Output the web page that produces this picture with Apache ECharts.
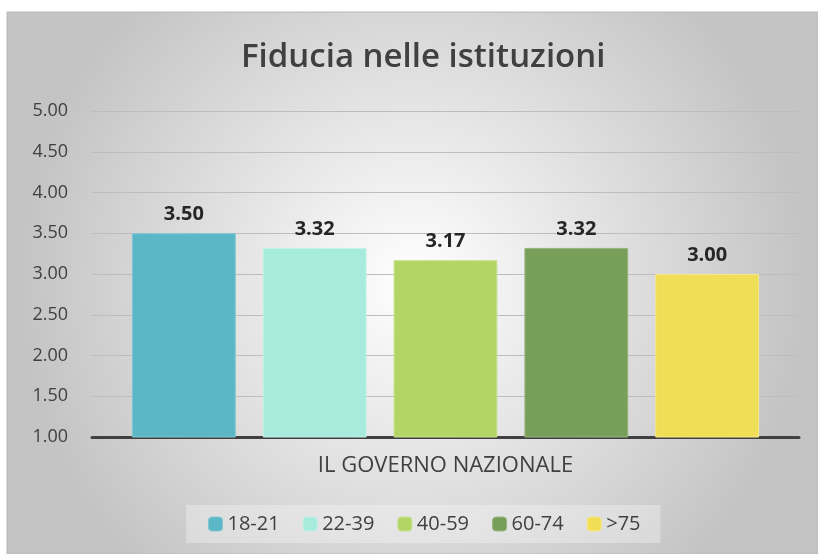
<!DOCTYPE html>
<html><head><meta charset="utf-8">
<script src="https://cdn.jsdelivr.net/npm/echarts@6/dist/echarts.min.js"></script>
<style>html,body{margin:0;padding:0;background:#fff}#c{width:818px;height:554px}</style>
</head><body><div id="c"></div>
<script>
const categories = ['IL GOVERNO NAZIONALE'];
const seriesNames = ['18-21', '22-39', '40-59', '60-74', '>75'];
const seriesValues = [[3.50], [3.32], [3.17], [3.32], [3.00]];
const colors = ['#5bb7c6', '#a6ebdb', '#b2d566', '#789f5a', '#f0df56'];
const borders = ['#7fc7d3', '#c2f2e7', '#c8e28f', '#97b67e', '#f5e886'];
const yTicks = { min: 1, max: 5, interval: 0.5 };

const chart = echarts.init(document.getElementById('c'));
const FONT = 'Open Sans';
chart.setOption({
  backgroundColor: '#ffffff',
  animation: false,
  graphic: [{
    type: 'rect', z: -10, silent: true,
    shape: { x: 7, y: 12, width: 811, height: 542 },
    style: {
      fill: new echarts.graphic.RadialGradient(0.5, 0.5, 0.72, [
        { offset: 0, color: '#ffffff' },
        { offset: 1, color: '#c4c4c4' }
      ]),
      stroke: '#b8b8b8', lineWidth: 1
    }
  }],
  title: {
    text: 'Fiducia nelle istituzioni', left: 236, top: 36,
    textStyle: { fontFamily: FONT, fontSize: 33, fontWeight: 600, color: '#404040' }
  },
  legend: {
    bottom: 11, left: 186,
    itemWidth: 14, itemHeight: 14, itemGap: 23,
    padding: [9, 20, 9, 22],
    backgroundColor: 'rgba(255,255,255,0.3)',
    textStyle: { fontFamily: FONT, fontSize: 20, color: '#404040' },
    data: seriesNames.map((n, i) => ({ name: n, itemStyle: { color: colors[i], borderColor: borders[i], borderWidth: 1 } }))
  },
  grid: { left: 92, right: 19, top: 111, bottom: 117 },
  xAxis: {
    type: 'category', data: categories,
    axisLine: { lineStyle: { color: '#404040', width: 3 } },
    axisTick: { show: false },
    axisLabel: { fontFamily: FONT, fontSize: 22, color: '#404040', margin: 18 }
  },
  yAxis: {
    type: 'value', min: yTicks.min, max: yTicks.max, interval: yTicks.interval,
    axisLine: { show: false }, axisTick: { show: false },
    axisLabel: { fontFamily: FONT, fontSize: 18, color: '#404040', margin: 24, formatter: v => v.toFixed(2) },
    splitLine: { lineStyle: { color: '#bdbdbd', width: 1 } }
  },
  series: seriesNames.map((n, i) => ({
    name: n, type: 'bar', data: seriesValues[i],
    barGap: '26%', barCategoryGap: '11.3%',
    itemStyle: { color: colors[i], borderColor: borders[i], borderWidth: 1, opacity: 1 },
    label: {
      show: true, position: 'top', distance: 9,
      fontFamily: FONT, fontSize: 20, fontWeight: 'bold', color: '#262626',
      formatter: p => p.value.toFixed(2)
    }
  }))
});
</script></body></html>
